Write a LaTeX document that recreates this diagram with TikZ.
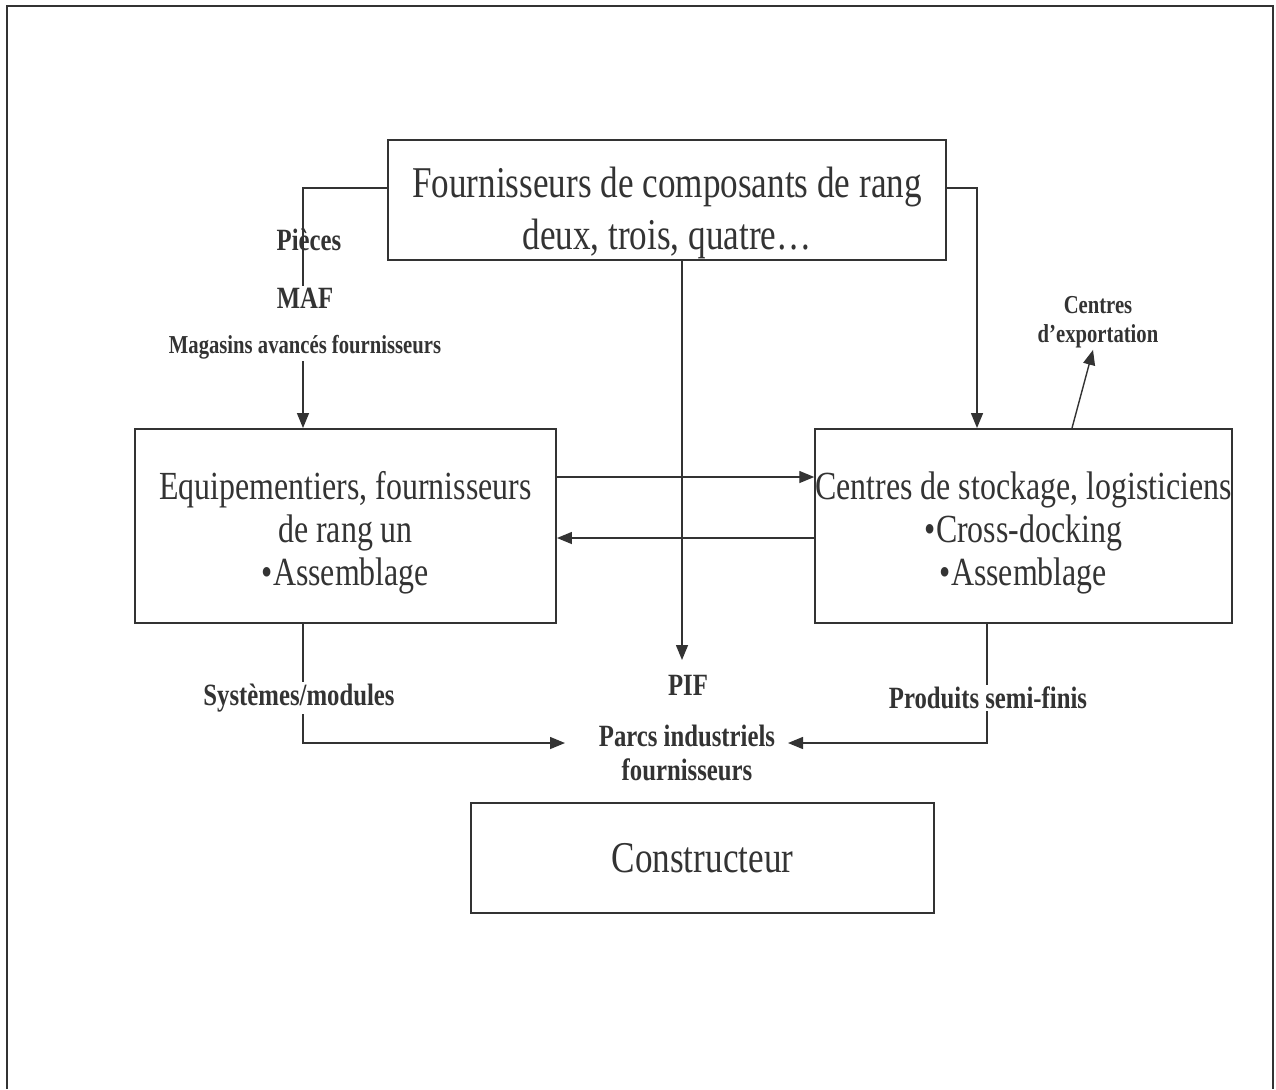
\documentclass[tikz,border=0pt]{standalone}
\usepackage{fontspec}
\setmainfont[FakeStretch=0.8]{Liberation Serif}
\usetikzlibrary{arrows.meta}

\definecolor{trait}{HTML}{333333}
\tikzset{
  boite/.style={draw=trait,line width=1.1pt,align=center,inner sep=0pt},
  grand/.style={font=\fontsize{25}{29.5}\selectfont},
  moyen/.style={font=\fontsize{22.7}{24.4}\selectfont},
  etiq/.style={font=\bfseries\fontsize{17.6}{19.3}\selectfont,align=center,fill=white,inner sep=1pt},
  petite/.style={font=\bfseries\fontsize{14.7}{16.5}\selectfont,align=center,fill=white,inner sep=1pt},
  fleche/.style={->,draw=trait,line width=0.8pt}
}

\begin{document}
\begin{tikzpicture}[>={Triangle[length=0.3cm,width=0.24cm]},text=trait]
	  \useasboundingbox (0,0) rectangle (25.52,-21.78);
	  \draw[trait,line width=1.3pt] (0.14,-21.78) -- (0.14,-0.12) -- (25.46,-0.12) -- (25.46,-21.78);
	  % boites
	  \node[boite,grand,minimum width=11.16cm,minimum height=2.4cm] (fourn) at (13.34,-4.0) {\rule{0pt}{32pt}Fournisseurs de composants de rang\\deux, trois, quatre\ldots};
	  \node[boite,moyen,minimum width=8.42cm,minimum height=3.88cm] (equip) at (6.91,-10.52) {\rule{0pt}{23.5pt}Equipementiers, fournisseurs\\de rang un\\•Assemblage};
	  \node[boite,moyen,minimum width=8.22cm,minimum height=3.88cm] (stock) at (20.47,-10.52) {\rule{0pt}{23.5pt}Centres de stockage, logisticiens\\•Cross-docking\\•Assemblage};
	  \node[boite,grand,minimum width=9.26cm,minimum height=2.2cm] (constr) at (14.05,-17.16) {Constructeur};
	  \node[petite] (export) at (21.96,-6.44) {Centres\\d’exportation};
	  \node[etiq] (pif) at (13.76,-13.7) {PIF};
	  \node[etiq] (parcs) at (13.74,-15.06) {Parcs industriels\\fournisseurs};
	  \coordinate (pifbas) at (13.64,-13.2);
	  \coordinate (parcsg) at (11.3,-14.86);
	  \coordinate (parcsd) at (15.76,-14.86);
	  % fleches
	  \draw[fleche] ([yshift=0.24cm]fourn.west) -| ([xshift=-0.85cm]equip.north);
	  \draw[fleche] ([yshift=0.24cm]fourn.east) -| ([xshift=-0.93cm]stock.north);
	  \draw[fleche] ([xshift=0.3cm]fourn.south) -- (pifbas);
	  \draw[fleche] ([yshift=0.98cm]equip.east) -- ([yshift=0.98cm]stock.west);
	  \draw[fleche] ([yshift=-0.24cm]stock.west) -- ([yshift=-0.24cm]equip.east);
	  \draw[fleche] ([xshift=-0.85cm]equip.south) |- (parcsg);
	  \draw[fleche] ([xshift=-0.73cm]stock.south) |- (parcsd);
	  \draw[fleche] ([xshift=0.97cm]stock.north) -- ([xshift=-0.1cm]export.south);
	  % etiquettes
	  \node[etiq,fill=none] (pieces) at (6.18,-4.8) {Pièces};
	  \node[etiq] (maf) at (6.1,-6.47) {MAF\\[0.22cm]{\fontsize{14.7}{16.5}\selectfont Magasins avancés fournisseurs}};
	  \node[etiq] (systemes) at (5.98,-13.96) {Systèmes/modules};
	  \node[etiq] (produits) at (19.76,-13.96) {Produits semi-finis};
	\end{tikzpicture}
\end{document}
